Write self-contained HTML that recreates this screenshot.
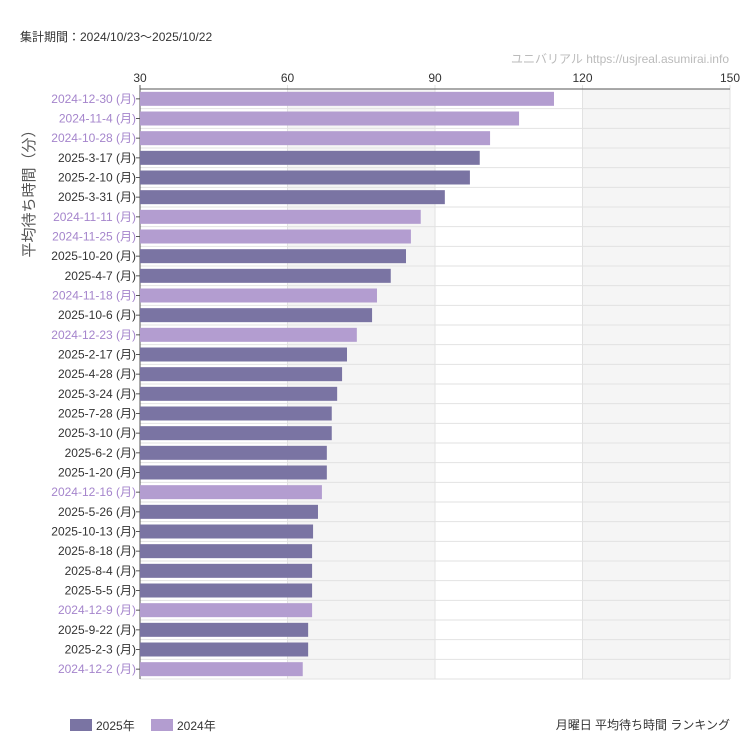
<!DOCTYPE html>
<html><head><meta charset="utf-8"><style>
body{margin:0;background:#fff;font-family:"Liberation Sans","Noto Sans CJK JP",sans-serif;}
#wrap{position:relative;width:750px;height:750px;overflow:hidden}
</style></head><body>
<div id="wrap">
<svg id="chart" width="750" height="750" xmlns="http://www.w3.org/2000/svg"></svg>
</div>
<script>
const categories=["2024-12-30 (月)","2024-11-4 (月)","2024-10-28 (月)","2025-3-17 (月)","2025-2-10 (月)","2025-3-31 (月)","2024-11-11 (月)","2024-11-25 (月)","2025-10-20 (月)","2025-4-7 (月)","2024-11-18 (月)","2025-10-6 (月)","2024-12-23 (月)","2025-2-17 (月)","2025-4-28 (月)","2025-3-24 (月)","2025-7-28 (月)","2025-3-10 (月)","2025-6-2 (月)","2025-1-20 (月)","2024-12-16 (月)","2025-5-26 (月)","2025-10-13 (月)","2025-8-18 (月)","2025-8-4 (月)","2025-5-5 (月)","2024-12-9 (月)","2025-9-22 (月)","2025-2-3 (月)","2024-12-2 (月)"];
const values=[114.2,107.1,101.2,99.1,97.1,92,87.1,85.1,84.1,81,78.2,77.2,74.1,72.1,71.1,70.1,69,69,68,68,67,66.2,65.2,65,65,65,65,64.2,64.2,63.1];
const years=[2024,2024,2024,2025,2025,2025,2024,2024,2025,2025,2024,2025,2024,2025,2025,2025,2025,2025,2025,2025,2024,2025,2025,2025,2025,2025,2024,2025,2025,2024];
const ticks=[30,60,90,120,150];
const svg=document.getElementById('chart');const NS='http://www.w3.org/2000/svg';
const L=140,R=730,T=89,B=679;
const x=v=>L+(v-30)/(150-30)*(R-L);
const rowH=(B-T)/categories.length;
const y=i=>T+i*rowH;
function el(t,a,txt){const e=document.createElementNS(NS,t);for(const k in a)e.setAttribute(k,a[k]);if(txt!=null)e.textContent=txt;svg.appendChild(e);return e;}
let e;
e=el('rect',{x:x(60),y:T,width:x(90)-x(60),height:B-T,fill:'#f5f5f5'});


e=el('rect',{x:x(120),y:T,width:x(150)-x(120),height:B-T,fill:'#f5f5f5'});


for(let i=0;i<=categories.length;i++){e=el('line',{x1:L,x2:R,y1:y(i),y2:y(i),stroke:'#e2e2e2','stroke-width':1});

}
ticks.forEach(t=>{e=el('line',{x1:x(t),x2:x(t),y1:T-4,y2:B,stroke:t===30?'#555':'#e2e2e2'});


e=el('text',{x:x(t),y:T-4-0,'text-anchor':'middle','font-size':12,fill:'#333',dy:-3},t);

});
e=el('line',{x1:L,x2:R,y1:T,y2:T,stroke:'#555'});


categories.forEach((c,i)=>{const col=years[i]===2024?'#b39dd0':'#7a74a3';
e=el('rect',{x:L,y:y(i)+rowH/2-7,width:x(values[i])-L,height:14,fill:col});


e=el('line',{x1:L-4,x2:L,y1:y(i)+rowH/2,y2:y(i)+rowH/2,stroke:'#555'});


e=el('text',{x:L-4,y:y(i)+rowH/2+4,'text-anchor':'end','font-size':12,fill:years[i]===2024?'#a585cc':'#333'},c);

});
e=el('text',{x:20,y:41,'font-size':12,fill:'#333'},'集計期間：2024/10/23〜2025/10/22');


e=el('text',{x:729,y:63,'text-anchor':'end','font-size':12,fill:'#bbb'},'ユニバリアル  https://usjreal.asumirai.info');


e=el('text',{x:0,y:0,'font-size':15,fill:'#555','text-anchor':'middle',transform:'translate(34,190) rotate(-90)'},'平均待ち時間（分）');


e=el('rect',{x:70,y:719,width:22,height:12,fill:'#7a74a3'});


e=el('text',{x:96,y:730,'font-size':12,fill:'#333'},'2025年');


e=el('rect',{x:151,y:719,width:22,height:12,fill:'#b39dd0'});


e=el('text',{x:177,y:730,'font-size':12,fill:'#333'},'2024年');


e=el('text',{x:730,y:729,'text-anchor':'end','font-size':12,fill:'#333'},'月曜日 平均待ち時間 ランキング');


</script>
</body></html>
